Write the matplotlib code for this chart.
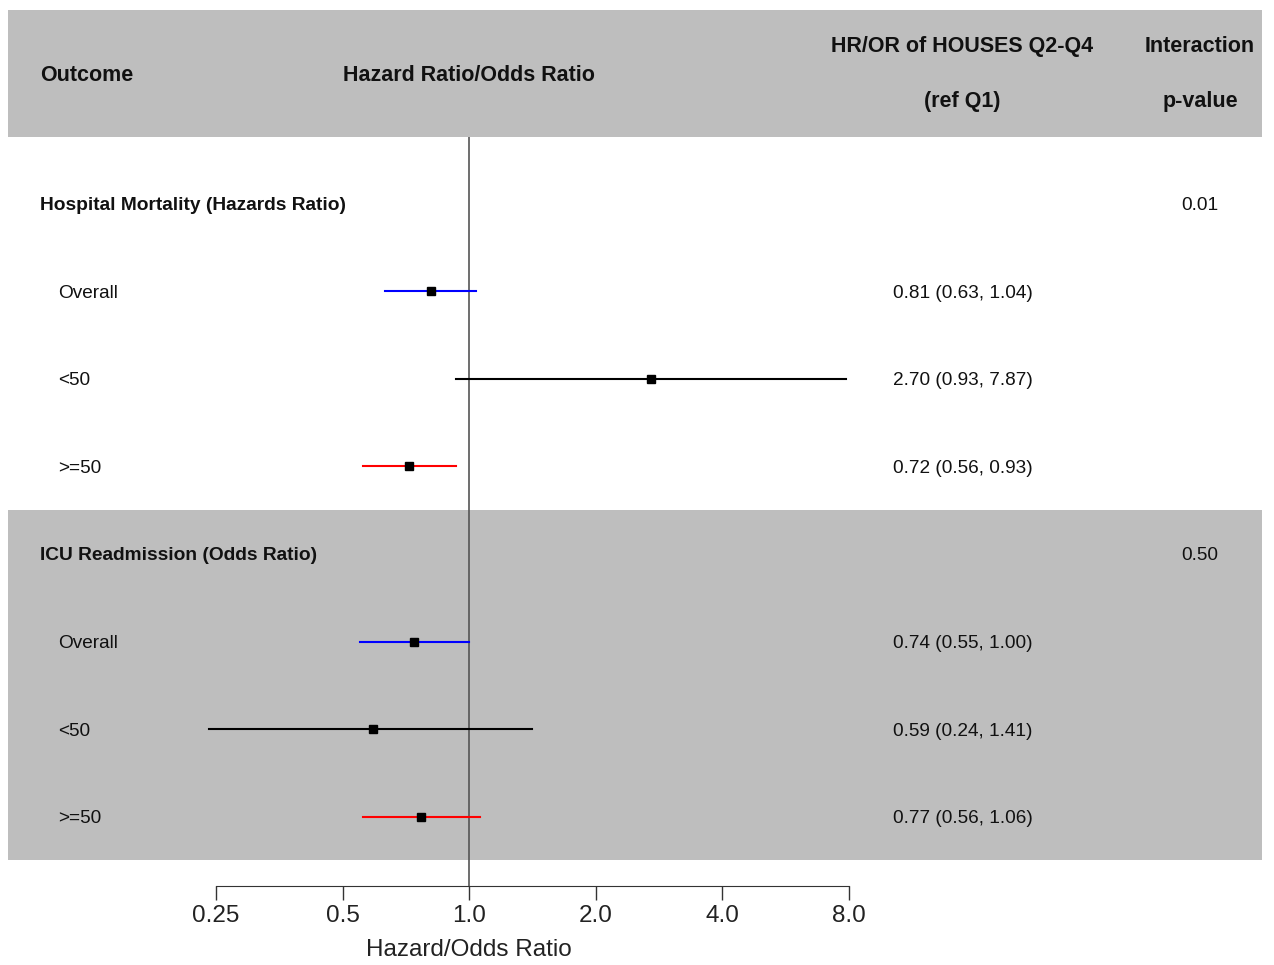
import matplotlib
matplotlib.use('Agg')
import matplotlib.pyplot as plt
import matplotlib.transforms as mtransforms
from matplotlib.patches import Rectangle

plt.rcParams['font.family'] = ['Liberation Sans', 'DejaVu Sans']

# data
groups = ['Hospital Mortality (Hazards Ratio)', 'ICU Readmission (Odds Ratio)']
p_values = ['0.01', '0.50']
subgroups = ['Overall', '<50', '>=50']
sub_colors = ['blue', 'black', 'red']
estimates = [[0.81, 2.70, 0.72], [0.74, 0.59, 0.77]]
lower_ci = [[0.63, 0.93, 0.56], [0.55, 0.24, 0.56]]
upper_ci = [[1.04, 7.87, 0.93], [1.00, 1.41, 1.06]]
tick_values = [0.25, 0.5, 1.0, 2.0, 4.0, 8.0]
tick_labels = ['0.25', '0.5', '1.0', '2.0', '4.0', '8.0']

W, H = 1274, 965
fig = plt.figure(figsize=(W / 100, H / 100), dpi=100)

# background axes in pixel units, for bands and table text
bg = fig.add_axes([0, 0, 1, 1])
bg.set_xlim(0, W)
bg.set_ylim(H, 0)
bg.axis('off')
band = '#bebebe'
bg.add_patch(Rectangle((8, 10), 1254, 127, color=band, lw=0))

# forest axes
row_h = 87.5
row0 = 204
ax_left, ax_right, ax_top, ax_bottom = 216, 849, 137, 886
ax = fig.add_axes([ax_left / W, 1 - ax_bottom / H,
                   (ax_right - ax_left) / W, (ax_bottom - ax_top) / H])
ax.patch.set_alpha(0)
ax.set_xscale('log', base=2)
ax.set_xlim(0.25, 8)
ax.set_ylim((ax_bottom - row0) / row_h, (ax_top - row0) / row_h)
for s in ['top', 'right', 'left']:
    ax.spines[s].set_visible(False)
ax.spines['bottom'].set_color('#333333')
ax.set_yticks([])
ax.set_xticks(tick_values)
ax.set_xticklabels(tick_labels)
ax.xaxis.set_minor_locator(matplotlib.ticker.NullLocator())
ax.tick_params(axis='x', length=10, width=1, color='#333333', pad=4,
               labelsize=17.5, labelcolor='#222222')
ax.axvline(1.0, color='#555555', lw=1.2, zorder=1)
# axis title sits under the 1.0 line, not under the axis centre
bg.text(469, 948, 'Hazard/Odds Ratio', ha='center', va='center_baseline',
        fontsize=17.5, color='#222222')

# x in pixels, y in rows
trans = mtransforms.blended_transform_factory(bg.transData, ax.transData)

# header texts
hdr = dict(fontsize=15.5, fontweight='bold', color='#111111', va='center_baseline')
bg.text(40, 73, 'Outcome', ha='left', **hdr)
bg.text(469, 73, 'Hazard Ratio/Odds Ratio', ha='center', **hdr)
bg.text(962, 44, 'HR/OR of HOUSES Q2-Q4', ha='center', **hdr)
bg.text(962, 99, '(ref Q1)', ha='center', **hdr)
bg.text(1200, 44, 'Interaction', ha='center', **hdr)
bg.text(1200, 99, 'p-value', ha='center', **hdr)

row = 0
for g, name in enumerate(groups):
    if g == 1:
        ax.add_patch(Rectangle((8, row - 0.5), 1254, 4, transform=trans,
                               color=band, lw=0, zorder=0, clip_on=False))
    ax.text(40, row, name, transform=trans, ha='left', va='center_baseline',
            fontsize=13.8, fontweight='bold', color='#111111')
    ax.text(1200, row, p_values[g], transform=trans, ha='center',
            va='center_baseline', fontsize=13.7, color='#111111')
    row += 1
    for i, sub in enumerate(subgroups):
        e, lo, up = estimates[g][i], lower_ci[g][i], upper_ci[g][i]
        ax.plot([lo, up], [row, row], color=sub_colors[i], lw=1.5, zorder=2,
                clip_on=False)
        ax.plot([e], [row], marker='s', color='black', markersize=6,
                linestyle='none', zorder=3)
        ax.text(58, row, sub, transform=trans, ha='left', va='center_baseline',
                fontsize=13.7, color='#111111')
        ax.text(963, row, f'{e:.2f} ({lo:.2f}, {up:.2f})', transform=trans,
                ha='center', va='center_baseline', fontsize=13.7,
                color='#111111')
        row += 1

plt.savefig('out.png', dpi=100)
